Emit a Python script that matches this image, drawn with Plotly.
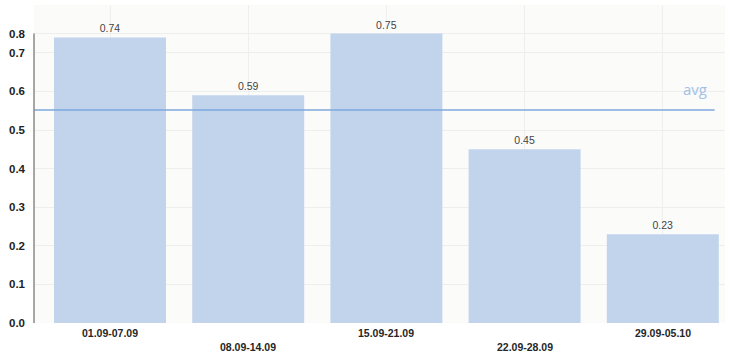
import plotly.graph_objects as go

# Weekly values
weeks = ["01.09-07.09", "08.09-14.09", "15.09-21.09", "22.09-28.09", "29.09-05.10"]
values = [0.74, 0.59, 0.75, 0.45, 0.23]
label_texts = ["0.74", "0.59", "0.75", "0.45", "0.23"]

tick_vals = [0.0, 0.1, 0.2, 0.3, 0.4, 0.5, 0.6, 0.7, 0.75]
tick_text = ["0.0", "0.1", "0.2", "0.3", "0.4", "0.5", "0.6", "0.7", "0.8"]

avg_value = sum(values) / len(values)

W, H = 730, 354
left_px, right_px = 34, 725
top_px, bottom_px = 5, 323
y_top = 0.824

fig = go.Figure()
fig.add_trace(go.Bar(
    x=list(range(len(weeks))),
    y=values,
    marker=dict(color="#c1d4ec", line=dict(width=0)),
    text=label_texts,
    textposition="outside",
    textfont=dict(family="Liberation Sans, Arial", size=10.5, color="#444444"),
    cliponaxis=False,
    hoverinfo="skip",
))

# Average line across the plot
fig.add_shape(type="line", xref="paper", yref="y", x0=0.0, x1=0.985,
              y0=avg_value, y1=avg_value,
              line=dict(color="#7ea9dc", width=1.6), layer="above")
fig.add_annotation(xref="paper", yref="y", x=0.977, y=avg_value,
                   text="avg", showarrow=False, xanchor="right", yanchor="bottom",
                   yshift=9, font=dict(family="Open Sans, Liberation Sans", size=15, color="#a3c1e6"))

# Left axis line, stopping at the top tick
fig.add_shape(type="line", xref="paper", yref="y", x0=0, x1=0, y0=0, y1=0.75,
              line=dict(color="#8a8a8a", width=1.5), layer="above")

# Staggered category labels
for i, w in enumerate(weeks):
    fig.add_annotation(xref="x", yref="y", x=i, y=0, text="<b>%s</b>" % w, showarrow=False,
                       yanchor="top", yshift=-2 if i % 2 == 0 else -16,
                       font=dict(family="Liberation Sans, Arial", size=10.5, color="#262626"))

fig.update_layout(
    width=W, height=H,
    margin=dict(l=left_px, r=W - right_px, t=top_px, b=H - bottom_px, pad=0),
    paper_bgcolor="white",
    plot_bgcolor="#fbfbfa",
    showlegend=False,
    bargap=0.19,
    xaxis=dict(range=[-0.55, 4.45], showticklabels=False, ticks="",
               showgrid=True, gridcolor="#efefef", gridwidth=1,
               tickvals=list(range(len(weeks))), zeroline=False, showline=False),
    yaxis=dict(range=[0, y_top], tickvals=tick_vals, ticktext=["<b>%s</b>" % t for t in tick_text],
               tickfont=dict(family="Liberation Sans, Arial", size=11.5, color="#222222"),
               showgrid=True, gridcolor="#eeeeee", gridwidth=1,
               zeroline=False, showline=False, ticks="", ticklabelstandoff=8),
)

fig.write_html("out.html")
